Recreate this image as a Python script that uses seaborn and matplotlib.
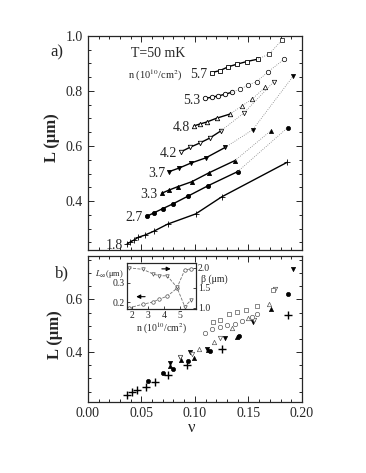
import numpy as np
import matplotlib
matplotlib.use("Agg")
import matplotlib.pyplot as plt
import seaborn as sns
from matplotlib.ticker import MultipleLocator

sns.set_style("ticks")
plt.rcParams['font.family'] = ['Liberation Serif', 'DejaVu Serif']
plt.rcParams['mathtext.fontset'] = 'stix'
plt.rcParams['xtick.direction'] = 'in'
plt.rcParams['ytick.direction'] = 'in'

# ---- panel a: L vs nu for each density, solid = fit range, dotted = continuation
nu_18 = [0.0367, 0.0393, 0.0430, 0.0470, 0.0533, 0.0620, 0.0745, 0.1007, 0.1250, 0.1863]
L_18 = [0.244, 0.250, 0.258, 0.268, 0.276, 0.291, 0.316, 0.353, 0.415, 0.541]

nu_27 = [0.0554, 0.0617, 0.0698, 0.0797, 0.0932, 0.1125, 0.1400]
L_27 = [0.345, 0.357, 0.372, 0.390, 0.417, 0.456, 0.507]
nu_27_dot = [0.1867]
L_27_dot = [0.667]

nu_33 = [0.0689, 0.0760, 0.0839, 0.0970, 0.1134, 0.1374]
L_33 = [0.428, 0.440, 0.452, 0.470, 0.503, 0.547]
nu_33_dot = [0.1708]
L_33_dot = [0.655]

nu_37 = [0.0760, 0.0854, 0.0963, 0.1103, 0.1284]
L_37 = [0.507, 0.520, 0.538, 0.557, 0.595]
nu_37_dot = [0.1540, 0.1920]
L_37_dot = [0.659, 0.855]

nu_42 = [0.0870, 0.0953, 0.1047, 0.1140, 0.1243]
L_42 = [0.579, 0.595, 0.611, 0.629, 0.655]
nu_42_dot = [0.1458, 0.1738]
L_42_dot = [0.720, 0.834]

nu_48 = [0.0991, 0.1047, 0.1110, 0.1203, 0.1327]
L_48 = [0.673, 0.680, 0.687, 0.701, 0.716]
nu_48_dot = [0.1437, 0.1536, 0.1655]
L_48_dot = [0.745, 0.771, 0.813]

nu_53 = [0.1093, 0.1156, 0.1218, 0.1280, 0.1343]
L_53 = [0.773, 0.777, 0.782, 0.788, 0.795]
nu_53_dot = [0.1420, 0.1498, 0.1577, 0.1685, 0.1832]
L_53_dot = [0.806, 0.822, 0.834, 0.870, 0.915]

nu_57 = [0.1157, 0.1234, 0.1312, 0.1390, 0.1484, 0.1592]
L_57 = [0.867, 0.874, 0.888, 0.897, 0.907, 0.916]
nu_57_dot = [0.1695, 0.1813]
L_57_dot = [0.935, 0.985]

densities = ["1.8", "2.7", "3.3", "3.7", "4.2", "4.8", "5.3", "5.7"]

# ---- panel b: scaled data
b_nu_18 = [0.037, 0.041, 0.046, 0.054, 0.063, 0.075, 0.093, 0.125, 0.187]
b_L_18 = [0.238, 0.248, 0.257, 0.269, 0.286, 0.311, 0.351, 0.411, 0.542]
b_nu_27 = [0.056, 0.070, 0.080, 0.094, 0.114, 0.141, 0.187]
b_L_27 = [0.291, 0.320, 0.336, 0.366, 0.404, 0.460, 0.622]
b_nu_33 = [0.077, 0.087, 0.099, 0.112, 0.139, 0.171]
b_L_33 = [0.347, 0.370, 0.377, 0.408, 0.457, 0.562]
b_nu_37 = [0.077, 0.086, 0.095, 0.111, 0.128, 0.154, 0.192]
b_L_37 = [0.358, 0.381, 0.400, 0.411, 0.453, 0.513, 0.717]
b_nu_42 = [0.086, 0.097, 0.123, 0.155, 0.175]
b_L_42 = [0.382, 0.392, 0.454, 0.520, 0.640]
b_nu_48 = [0.104, 0.118, 0.135, 0.150, 0.169]
b_L_48 = [0.410, 0.440, 0.490, 0.530, 0.584]
b_nu_53 = [0.109, 0.116, 0.123, 0.130, 0.137, 0.144, 0.153, 0.158]
b_L_53 = [0.474, 0.487, 0.495, 0.502, 0.508, 0.517, 0.533, 0.546]
b_nu_57 = [0.117, 0.123, 0.132, 0.139, 0.148, 0.158, 0.173]
b_L_57 = [0.514, 0.523, 0.543, 0.552, 0.561, 0.574, 0.637]

# ---- inset: fit parameters vs density
n_ins = [1.8, 2.7, 3.3, 3.7, 4.2, 4.8, 5.3, 5.7]
Linf_ins = [0.170, 0.190, 0.200, 0.215, 0.230, 0.270, 0.365, 0.370]
beta_ins = [2.00, 1.96, 1.85, 1.80, 1.80, 1.52, 1.03, 1.20]

fig = plt.figure(figsize=(3.66, 4.73), dpi=100)
ax1 = fig.add_axes([0.240, 0.4715, 0.585, 0.4525])
ax2 = fig.add_axes([0.240, 0.150, 0.585, 0.3088])


def curve(ax, x, y, xd, yd, m, filled):
    mfc = 'k' if filled else 'white'
    ms = 5 if m == '+' else (3 if filled else 3.2)
    sns.lineplot(x=x, y=y, ax=ax, color='k', lw=1.0, marker=m, ms=ms,
                 mfc=mfc, mec='k', mew=0.6, estimator=None, sort=False)
    if xd:
        sns.lineplot(x=[x[-1]] + xd, y=[y[-1]] + yd, ax=ax, color='0.5',
                     lw=0.6, ls=':', marker=m, ms=ms, mfc=mfc, mec='k',
                     mew=0.5, markevery=list(range(1, len(xd) + 1)),
                     estimator=None, sort=False)


curve(ax1, nu_18, L_18, [], [], '+', True)
curve(ax1, nu_27, L_27, nu_27_dot, L_27_dot, 'o', True)
curve(ax1, nu_33, L_33, nu_33_dot, L_33_dot, '^', True)
curve(ax1, nu_37, L_37, nu_37_dot, L_37_dot, 'v', True)
curve(ax1, nu_42, L_42, nu_42_dot, L_42_dot, 'v', False)
curve(ax1, nu_48, L_48, nu_48_dot, L_48_dot, '^', False)
curve(ax1, nu_53, L_53, nu_53_dot, L_53_dot, 'o', False)
curve(ax1, nu_57, L_57, nu_57_dot, L_57_dot, 's', False)

starts = [(nu_18[0], L_18[0]), (nu_27[0], L_27[0]), (nu_33[0], L_33[0]),
          (nu_37[0], L_37[0]), (nu_42[0], L_42[0]), (nu_48[0], L_48[0]),
          (nu_53[0], L_53[0]), (nu_57[0], L_57[0])]
for lab, (x0, y0) in zip(densities, starts):
    ax1.text(x0 - 0.004, y0 - 0.006, lab, ha='right', va='center', fontsize=10)

ax1.text(0.0627, 0.855, r"n (10$^{10}$/cm$^2$)", ha='center', va='center', fontsize=7.5)
ax1.text(0.066, 0.935, "T=50 mK", ha='center', va='center', fontsize=10)

# panel b scatter
pts = [(b_nu_18, b_L_18, '+', True), (b_nu_27, b_L_27, 'o', True),
       (b_nu_33, b_L_33, '^', True), (b_nu_37, b_L_37, 'v', True),
       (b_nu_42, b_L_42, 'v', False), (b_nu_48, b_L_48, '^', False),
       (b_nu_53, b_L_53, 'o', False), (b_nu_57, b_L_57, 's', False)]
for x, y, m, filled in pts:
    if m == '+':
        sns.scatterplot(x=x, y=y, ax=ax2, marker='+', s=30, color='k', linewidth=1.0)
    elif filled:
        sns.scatterplot(x=x, y=y, ax=ax2, marker=m, s=9, color='k', edgecolor='k', linewidth=0.5)
    else:
        sns.scatterplot(x=x, y=y, ax=ax2, marker=m, s=10, facecolor='white', edgecolor='0.35', linewidth=0.5)

for ax in (ax1, ax2):
    ax.set_xlim(0.0, 0.2)
    ax.xaxis.set_major_locator(MultipleLocator(0.05))
    ax.xaxis.set_minor_locator(MultipleLocator(0.01))
    ax.yaxis.set_major_locator(MultipleLocator(0.2))
    ax.yaxis.set_minor_locator(MultipleLocator(0.05))
    ax.tick_params(which='both', top=True, right=True, labelsize=10, width=0.7)
    ax.tick_params(which='major', length=4)
    ax.tick_params(which='minor', length=2.5)
    for s in ax.spines.values():
        s.set_linewidth(0.9)
    ax.set_xlabel("")
    ax.set_ylabel("")

ax1.set_ylim(0.222, 1.0)
ax1.set_yticks([0.4, 0.6, 0.8, 1.0])
ax1.set_yticklabels(["0.4", "0.6", "0.8", "1.0"])
ax1.tick_params(labelbottom=False)
ax2.set_ylim(0.21, 0.765)
ax2.set_yticks([0.4, 0.6])
ax2.set_yticklabels(["0.4", "0.6"])
ax2.set_xticks([0.0, 0.05, 0.10, 0.15, 0.20])
ax2.set_xticklabels(["0.00", "0.05", "0.10", "0.15", "0.20"])

fig.text(0.142, 0.71, "L (μm)", rotation=90, ha='center', va='center', fontsize=12, fontweight='bold')
fig.text(0.150, 0.292, "L (μm)", rotation=90, ha='center', va='center', fontsize=12, fontweight='bold')
fig.text(0.525, 0.095, "ν", ha='center', va='center', fontsize=12)
fig.text(0.156, 0.89, "a)", ha='center', va='center', fontsize=12)
fig.text(0.168, 0.422, "b)", ha='center', va='center', fontsize=12)

# inset
axi = fig.add_axes([0.347, 0.3467, 0.1885, 0.0973])
axr = axi.twinx()
sns.lineplot(x=n_ins, y=Linf_ins, ax=axi, color='0.45', lw=0.6, ls='--', marker='o', ms=2.5,
             mfc='white', mec='0.3', mew=0.5, estimator=None, sort=False)
sns.lineplot(x=n_ins, y=beta_ins, ax=axr, color='0.45', lw=0.6, ls='--', marker='v', ms=2.5,
             mfc='white', mec='0.3', mew=0.5, estimator=None, sort=False)
axi.set_xlim(1.7, 6.0)
axi.set_ylim(0.165, 0.40)
axr.set_ylim(0.97, 2.12)
axi.set_xticks([2, 3, 4, 5])
axi.set_yticks([0.2, 0.3])
axr.set_yticks([1.0, 1.5, 2.0])
axr.set_yticklabels(["1.0", "1.5", "2.0"])
axi.tick_params(labelsize=7, length=2.5, width=0.6, pad=1.5)
axr.tick_params(labelsize=7, length=2.5, width=0.6, pad=1.5)
axi.set_xlabel(r"n (10$^{10}$/cm$^2$)", fontsize=7, labelpad=0.5)
axi.set_ylabel("")
axr.set_ylabel("")
for s in list(axi.spines.values()) + list(axr.spines.values()):
    s.set_linewidth(0.8)
axi.annotate("", xy=(4.6, 0.37), xytext=(3.7, 0.37),
             arrowprops=dict(arrowstyle='-|>', color='k', lw=0.8, mutation_scale=6))
axi.annotate("", xy=(2.1, 0.228), xytext=(3.0, 0.228),
             arrowprops=dict(arrowstyle='-|>', color='k', lw=0.8, mutation_scale=6))
fig.text(0.30, 0.42, r"$L_\infty$(μm)", ha='center', va='center', fontsize=6)
fig.text(0.585, 0.41, "β (μm)", ha='center', va='center', fontsize=7)

fig.savefig("out.png", dpi=100)
